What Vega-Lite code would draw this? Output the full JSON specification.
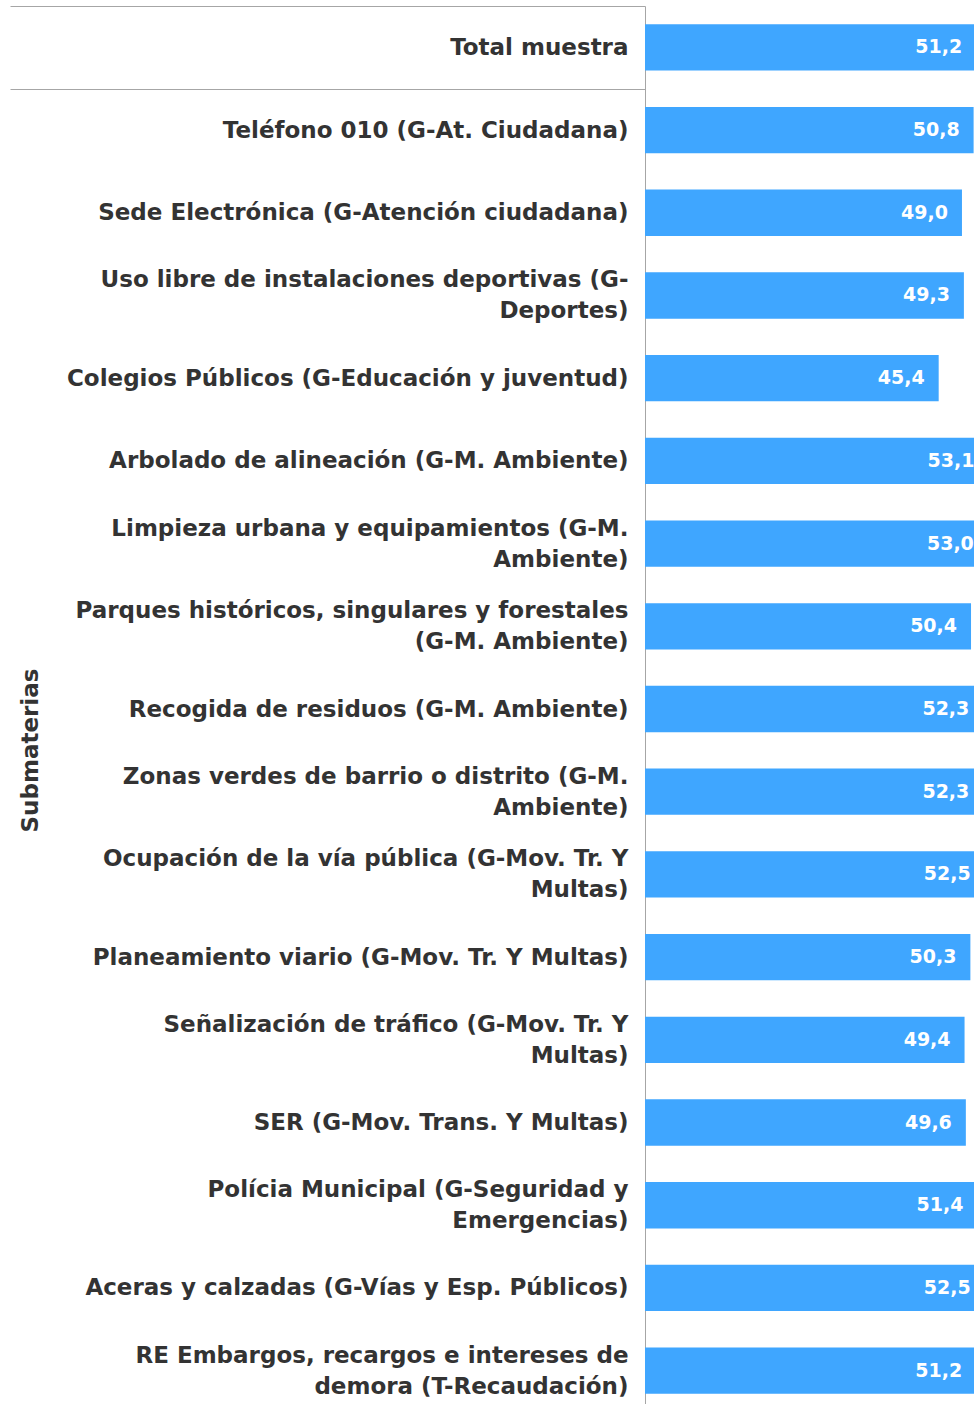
{
  "$schema": "https://vega.github.io/schema/vega-lite/v6.json",
  "width": 329,
  "height": 1398,
  "autosize": "none",
  "padding": {"left": 645, "top": 6, "right": 0, "bottom": 0},
  "background": "white",
  "config": {
    "view": {"stroke": null},
    "locale": {"number": {"decimal": ",", "thousands": ".", "grouping": [3], "currency": ["", " €"]}}
  },
  "data": {
    "values": [
      {"submateria": "Total muestra", "valor": 51.2},
      {"submateria": "Teléfono 010 (G-At. Ciudadana)", "valor": 50.8},
      {"submateria": "Sede Electrónica (G-Atención ciudadana)", "valor": 49.0},
      {"submateria": "Uso libre de instalaciones deportivas (G-\nDeportes)", "valor": 49.3},
      {"submateria": "Colegios Públicos (G-Educación y juventud)", "valor": 45.4},
      {"submateria": "Arbolado de alineación (G-M. Ambiente)", "valor": 53.1},
      {"submateria": "Limpieza urbana y equipamientos (G-M.\nAmbiente)", "valor": 53.0},
      {"submateria": "Parques históricos, singulares y forestales\n(G-M. Ambiente)", "valor": 50.4},
      {"submateria": "Recogida de residuos (G-M. Ambiente)", "valor": 52.3},
      {"submateria": "Zonas verdes de barrio o distrito (G-M.\nAmbiente)", "valor": 52.3},
      {"submateria": "Ocupación de la vía pública (G-Mov. Tr. Y\nMultas)", "valor": 52.5},
      {"submateria": "Planeamiento viario (G-Mov. Tr. Y Multas)", "valor": 50.3},
      {"submateria": "Señalización de tráfico (G-Mov. Tr. Y\nMultas)", "valor": 49.4},
      {"submateria": "SER (G-Mov. Trans. Y Multas)", "valor": 49.6},
      {"submateria": "Polícia Municipal (G-Seguridad y\nEmergencias)", "valor": 51.4},
      {"submateria": "Aceras y calzadas (G-Vías y Esp. Públicos)", "valor": 52.5},
      {"submateria": "RE Embargos, recargos e intereses de\ndemora (T-Recaudación)", "valor": 51.2}
    ]
  },
  "encoding": {
    "y": {
      "field": "submateria",
      "type": "nominal",
      "sort": null,
      "scale": {"paddingInner": 0, "paddingOuter": 0, "range": [0, 1406]},
      "axis": {
        "title": "Submaterias",
        "titleFont": "DejaVu Sans",
        "titleFontSize": 23,
        "titleFontWeight": "bold",
        "titleColor": "#333333",
        "titleAngle": 270,
        "titleAlign": "center",
        "titleBaseline": "middle",
        "titleX": -615,
        "titleY": 744,
        "labelFont": "DejaVu Sans",
        "labelFontSize": 23,
        "labelFontWeight": "bold",
        "labelColor": "#333333",
        "labelLimit": 0,
        "labelOverlap": false,
        "labelFlush": false,
        "labelLineHeight": 31,
        "labelExpr": "split(datum.label, '\\n')",
        "labelOffset": {
          "condition": {"test": "indexof(datum.label, '\\n') >= 0", "value": -15.5},
          "value": 0
        },
        "domainColor": "#A6A6A6",
        "domainWidth": 1,
        "ticks": true,
        "tickBand": "extent",
        "tickSize": 635,
        "tickWidth": 1,
        "tickColor": {
          "condition": {"test": "datum.value === 'Total muestra' || isValid(datum.extra)", "value": "#A6A6A6"},
          "value": "transparent"
        },
        "labelPadding": -618,
        "grid": false
      }
    },
    "x": {
      "field": "valor",
      "type": "quantitative",
      "scale": {"domain": [0, 50.86], "nice": false, "zero": true},
      "axis": null
    }
  },
  "layer": [
    {"mark": {"type": "bar", "color": "#3FA6FF", "clip": true, "height": {"band": 0.56}}},
    {
      "mark": {"type": "text", "align": "right", "baseline": "middle", "dx": -14, "color": "white", "font": "DejaVu Sans", "fontWeight": "bold", "fontSize": 19, "clip": true},
      "encoding": {"text": {"field": "valor", "type": "quantitative", "format": ".1f"}}
    }
  ]
}
